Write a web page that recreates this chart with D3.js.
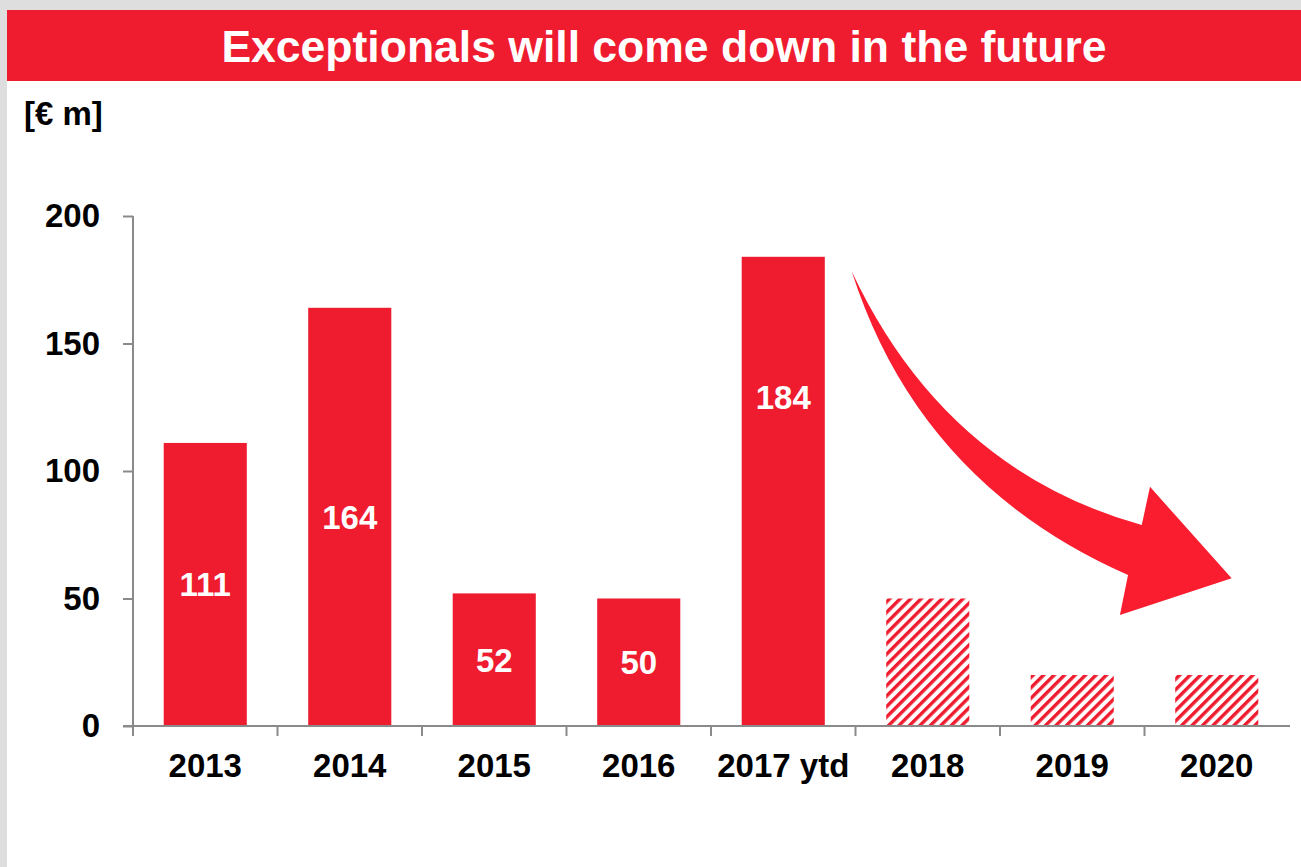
<!DOCTYPE html>
<html>
<head>
<meta charset="utf-8">
<script src="https://cdn.jsdelivr.net/npm/d3@7"></script>
<style>
  html, body { margin: 0; padding: 0; background: #dedede; }
  svg { display: block; }
  text { font-family: "Liberation Sans", Arial, sans-serif; font-weight: bold; }
</style>
</head>
<body>
<svg id="chart" width="1301" height="867"></svg>
<script>
// Exceptional items per year, € m (2018-2020 are outlook values)
const categories = ["2013", "2014", "2015", "2016", "2017 ytd", "2018", "2019", "2020"];
const values = [111, 164, 52, 50, 184, 50, 20, 20];
const isForecast = [false, false, false, false, false, true, true, true];
const yTicks = [0, 50, 100, 150, 200];
const titleText = "Exceptionals will come down in the future";
const unitText = "[€ m]";

const RED = "#ee1c2e";
const ARROW_RED = "#f91d2f";
const AXIS = "#8a8a8a";

const svg = d3.select("#chart");

// page panel + title banner
svg.append("rect").attr("x", 7).attr("y", 10).attr("width", 1294).attr("height", 857).attr("fill", "#ffffff");
svg.append("rect").attr("x", 7).attr("y", 10).attr("width", 1294).attr("height", 71).attr("fill", RED);
svg.append("text").attr("x", 664).attr("y", 62).attr("text-anchor", "middle")
  .attr("fill", "#ffffff").attr("font-size", 44.5).text(titleText);
svg.append("text").attr("x", 24).attr("y", 125).attr("fill", "#000").attr("font-size", 33).text(unitText);

// plot geometry
const plot = { left: 133, right: 1289, top: 216, bottom: 726 };

const x = d3.scaleBand().domain(categories).range([plot.left, plot.right])
  .paddingInner(0.425).paddingOuter(0.2125);
const y = d3.scaleLinear().domain([0, 200]).range([plot.bottom, plot.top]);

// diagonal hatch for outlook bars
const defs = svg.append("defs");
const pat = defs.append("pattern").attr("id", "hatch").attr("patternUnits", "userSpaceOnUse")
  .attr("width", 7.4).attr("height", 7.4).attr("patternTransform", "rotate(45)");
pat.append("rect").attr("width", 7.4).attr("height", 7.4).attr("fill", "#ffffff");
pat.append("rect").attr("x", 0).attr("y", 0).attr("width", 3.4).attr("height", 7.4).attr("fill", RED);

const data = categories.map((c, i) => ({ cat: c, value: values[i], forecast: isForecast[i] }));

// bars
svg.append("g").selectAll("rect").data(data).join("rect")
  .attr("x", d => x(d.cat))
  .attr("y", d => y(d.value))
  .attr("width", x.bandwidth())
  .attr("height", d => y(0) - y(d.value))
  .attr("fill", d => d.forecast ? "url(#hatch)" : RED);

// value labels inside the actual bars (the tall 2017 label sits higher in its bar)
const labelPos = { "2017 ytd": 0.7 };
svg.append("g").selectAll("text").data(data.filter(d => !d.forecast)).join("text")
  .attr("x", d => x(d.cat) + x.bandwidth() / 2)
  .attr("y", d => y(d.value * (labelPos[d.cat] || 0.5)))
  .attr("dy", "0.36em")
  .attr("text-anchor", "middle").attr("fill", "#ffffff").attr("font-size", 33)
  .text(d => d.value);

// y axis
const yAxis = svg.append("g").attr("transform", `translate(${plot.left},0)`)
  .call(d3.axisLeft(y).tickValues(yTicks).tickSize(10).tickPadding(23));
yAxis.select(".domain").attr("stroke", AXIS).attr("stroke-width", 2).attr("d", `M0,${plot.top}V${plot.bottom}`);
yAxis.selectAll(".tick line").attr("stroke", AXIS).attr("stroke-width", 2);
yAxis.selectAll(".tick text").attr("fill", "#000").attr("font-size", 33)
  .attr("font-family", "Liberation Sans, Arial, sans-serif").attr("font-weight", "bold");

// x axis: baseline with ticks on the category boundaries
const xg = svg.append("g");
xg.append("line").attr("x1", plot.left - 10).attr("x2", plot.right + 1)
  .attr("y1", plot.bottom).attr("y2", plot.bottom).attr("stroke", AXIS).attr("stroke-width", 2);
const step = x.step();
const bounds = d3.range(categories.length).map(i => x(categories[i]) - x.paddingOuter() * step);
xg.selectAll("line.b").data(bounds).join("line").attr("class", "b")
  .attr("x1", d => d).attr("x2", d => d).attr("y1", plot.bottom).attr("y2", plot.bottom + 10)
  .attr("stroke", AXIS).attr("stroke-width", 2);
xg.selectAll("text").data(categories).join("text")
  .attr("x", d => x(d) + x.bandwidth() / 2).attr("y", 777)
  .attr("text-anchor", "middle").attr("fill", "#000").attr("font-size", 33).text(d => d);

// downward-trend arrow, laid out in (band index, value) units
const u = d3.scaleLinear().domain([0, categories.length]).range([plot.left, plot.right]);
const P = ([a, b]) => [u(a), y(b)];
const tail = P([4.974, 178.2]);
const outerCtrl = P([5.444, 95.1]);
const outerEnd = P([6.886, 59.2]);
const headBottom = P([6.830, 43.5]);
const headTip = P([7.603, 57.9]);
const headTop = P([7.038, 93.8]);
const joint = P([6.981, 78.8]);
const innerCtrl = P([5.62, 100.4]);

const ap = d3.path();
ap.moveTo(...tail);
ap.quadraticCurveTo(...outerCtrl, ...outerEnd);
ap.lineTo(...headBottom);
ap.lineTo(...headTip);
ap.lineTo(...headTop);
ap.lineTo(...joint);
ap.quadraticCurveTo(...innerCtrl, ...tail);
ap.closePath();
svg.append("path").attr("d", ap.toString()).attr("fill", ARROW_RED);
</script>
</body>
</html>
